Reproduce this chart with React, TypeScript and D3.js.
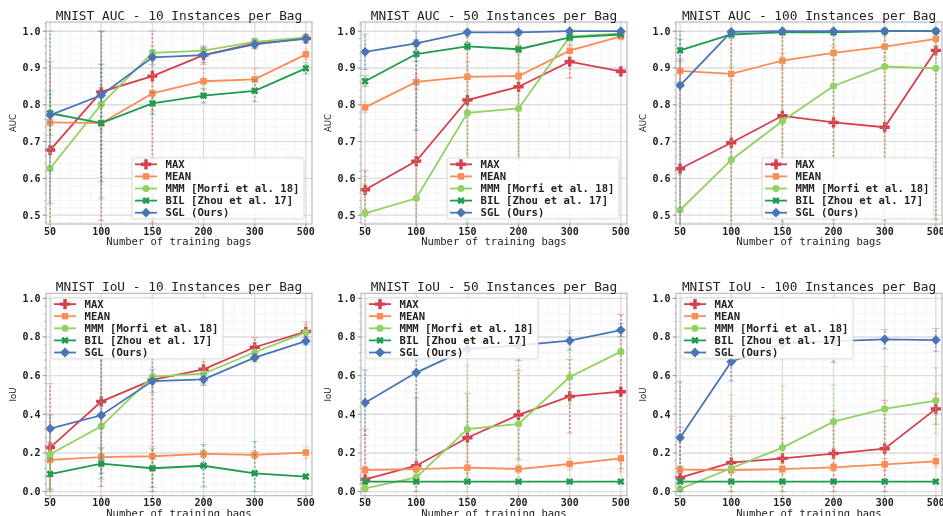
import * as d3 from 'd3'

// x categories (training bags) and method names
const BAGS = ['50', '100', '150', '200', '300', '500']
const METHODS = ['MAX', 'MEAN', 'MMM [Morfi et al. 18]', 'BIL [Zhou et al. 17]', 'SGL (Ours)']
const COLORS = ['#d6404e', '#fa8c58', '#93d162', '#1f9a4f', '#4a75b5']

const AUC_TICKS = [0.5, 0.6, 0.7, 0.8, 0.9, 1.0]
const IOU_TICKS = [0.0, 0.2, 0.4, 0.6, 0.8, 1.0]

// AUC, one row per method (MAX, MEAN, MMM, BIL, SGL)
const auc10 = [
  [0.677, 0.835, 0.878, 0.935, 0.967, 0.98],
  [0.752, 0.75, 0.831, 0.864, 0.869, 0.937],
  [0.627, 0.801, 0.941, 0.947, 0.971, 0.983],
  [0.777, 0.75, 0.804, 0.825, 0.838, 0.899],
  [0.772, 0.826, 0.929, 0.935, 0.964, 0.98],
]
const auc10Err = [
  [0.24, 0.35, 0.4, 0.025, 0.012, 0.01],
  [0.02, 0.02, 0.05, 0.035, 0.03, 0.015],
  [0.2, 0.11, 0.02, 0.01, 0.01, 0.005],
  [0.06, 0.16, 0.03, 0.02, 0.03, 0.015],
  [0.24, 0.28, 0.02, 0.02, 0.012, 0.01],
]
const auc50 = [
  [0.569, 0.647, 0.813, 0.849, 0.917, 0.891],
  [0.793, 0.862, 0.876, 0.878, 0.947, 0.986],
  [0.505, 0.546, 0.778, 0.79, 0.985, 0.994],
  [0.864, 0.938, 0.959, 0.951, 0.983, 0.991],
  [0.944, 0.967, 0.997, 0.997, 1.0, 1.0],
]
const auc50Err = [
  [0.053, 0.33, 0.3, 0.2, 0.045, 0.005],
  [0.015, 0.02, 0.04, 0.01, 0.02, 0.01],
  [0.1, 0.3, 0.3, 0.2, 0.01, 0.005],
  [0.015, 0.02, 0.01, 0.01, 0.01, 0.005],
  [0.048, 0.237, 0.01, 0.01, 0.002, 0.002],
]
const auc100 = [
  [0.626, 0.697, 0.77, 0.752, 0.739, 0.948],
  [0.892, 0.884, 0.92, 0.941, 0.958, 0.979],
  [0.514, 0.65, 0.756, 0.851, 0.904, 0.899],
  [0.948, 0.991, 0.997, 0.997, 1.0, 1.0],
  [0.853, 0.998, 1.0, 1.0, 1.0, 1.0],
]
const auc100Err = [
  [0.3, 0.3, 0.3, 0.3, 0.3, 0.46],
  [0.03, 0.02, 0.02, 0.02, 0.03, 0.02],
  [0.1, 0.3, 0.3, 0.4, 0.42, 0.41],
  [0.03, 0.01, 0.005, 0.005, 0.002, 0.002],
  [0.4, 0.01, 0.002, 0.002, 0.002, 0.002],
]

// IoU
const iou10 = [
  [0.228, 0.466, 0.578, 0.633, 0.747, 0.828],
  [0.164, 0.179, 0.183, 0.195, 0.19, 0.202],
  [0.193, 0.338, 0.595, 0.61, 0.721, 0.824],
  [0.091, 0.145, 0.121, 0.134, 0.095, 0.078],
  [0.326, 0.395, 0.572, 0.581, 0.693, 0.779],
]
const iou10Err = [
  [0.33, 0.44, 0.58, 0.07, 0.05, 0.05],
  [0.15, 0.05, 0.05, 0.02, 0.02, 0.03],
  [0.19, 0.17, 0.12, 0.06, 0.05, 0.04],
  [0.08, 0.08, 0.1, 0.11, 0.165, 0.01],
  [0.07, 0.3, 0.06, 0.03, 0.02, 0.02],
]
const iou50 = [
  [0.064, 0.134, 0.279, 0.397, 0.493, 0.517],
  [0.112, 0.116, 0.124, 0.117, 0.143, 0.172],
  [0.017, 0.074, 0.324, 0.35, 0.593, 0.724],
  [0.052, 0.052, 0.052, 0.052, 0.052, 0.052],
  [0.46, 0.616, 0.738, 0.757, 0.781, 0.836],
]
const iou50Err = [
  [0.26, 0.35, 0.23, 0.23, 0.19, 0.4],
  [0.02, 0.02, 0.03, 0.02, 0.03, 0.07],
  [0.05, 0.44, 0.33, 0.3, 0.15, 0.05],
  [0.003, 0.003, 0.003, 0.003, 0.003, 0.003],
  [0.17, 0.4, 0.03, 0.08, 0.05, 0.035],
]
const iou100 = [
  [0.072, 0.15, 0.172, 0.197, 0.222, 0.428],
  [0.114, 0.112, 0.116, 0.126, 0.141, 0.157],
  [0.014, 0.121, 0.228, 0.362, 0.428, 0.471],
  [0.052, 0.052, 0.052, 0.052, 0.052, 0.052],
  [0.279, 0.672, 0.767, 0.779, 0.788, 0.784],
]
const iou100Err = [
  [0.26, 0.24, 0.21, 0.22, 0.25, 0.08],
  [0.02, 0.02, 0.02, 0.02, 0.03, 0.03],
  [0.05, 0.38, 0.32, 0.19, 0.22, 0.17],
  [0.003, 0.003, 0.003, 0.003, 0.003, 0.003],
  [0.29, 0.1, 0.03, 0.11, 0.05, 0.06],
]

const W = 943
const H = 516
const MONO = '"DejaVu Sans Mono", monospace'
const SANS = '"DejaVu Sans", sans-serif'

const PANEL_LEFTS = [46, 361, 676]
const PANEL_W = 266

const markers = [
  { d: d3.symbol(d3.symbolCross, 58)(), rot: 0 },
  { d: d3.symbol(d3.symbolSquare, 42)(), rot: 0 },
  { d: d3.symbol(d3.symbolCircle, 40)(), rot: 0 },
  { d: d3.symbol(d3.symbolCross, 34)(), rot: 45 },
  { d: d3.symbol(d3.symbolSquare, 48)(), rot: 45 },
]

type PanelProps = {
  id: string
  left: number
  top: number
  height: number
  title: string
  ylabel: string
  domain: [number, number]
  ticks: number[]
  values: number[][]
  errs: number[][]
  legend: 'lr' | 'ul'
}

function Panel({ id, left, top, height, title, ylabel, domain, ticks, values, errs, legend }: PanelProps) {
  const x = d3.scaleLinear().domain([-0.08, 5.12]).range([left, left + PANEL_W])
  const y = d3.scaleLinear().domain(domain).range([top + height, top])
  const step = ticks[1] - ticks[0]
  const minor = d3.range(Math.ceil(domain[0] / (step / 5)), Math.floor(domain[1] / (step / 5)) + 1)
    .map(k => k * step / 5)
  const minorX = d3.range(0, 26).map(k => k * 0.2)
  const line = d3.line<number>().x((_, i) => x(i)).y(v => y(v))
  const bottom = top + height
  const fmt = d3.format('.1f')

  const lw = 172
  const lh = 61
  const lx = legend === 'lr' ? left + PANEL_W - 8 - lw : left + 5
  const ly = legend === 'lr' ? bottom - 5 - lh : top + 4.5

  return (
    <g>
      <defs>
        <clipPath id={id}>
          <rect x={left} y={top} width={PANEL_W} height={height} />
        </clipPath>
      </defs>
      <rect x={left} y={top} width={PANEL_W} height={height} fill="#fff" />
      {/* minor grid */}
      {minor.map((v, i) => (
        <line key={'my' + i} x1={left} x2={left + PANEL_W} y1={y(v)} y2={y(v)} stroke="#efefef" strokeWidth={0.6} />
      ))}
      {minorX.map((v, i) => (
        <line key={'mx' + i} x1={x(v)} x2={x(v)} y1={top} y2={bottom} stroke="#efefef" strokeWidth={0.6} />
      ))}
      {/* major grid */}
      {ticks.map(v => (
        <line key={'gy' + v} x1={left} x2={left + PANEL_W} y1={y(v)} y2={y(v)} stroke="#dedede" strokeWidth={1.4} />
      ))}
      {BAGS.map((b, i) => (
        <line key={'gx' + b} x1={x(i)} x2={x(i)} y1={top} y2={bottom} stroke="#dedede" strokeWidth={1.4} />
      ))}

      {/* series */}
      {values.map((vals, s) => (
        <g key={s}>
          <g clipPath={`url(#${id})`} opacity={0.55}>
            {vals.map((v, i) => {
              const lo = Math.max(0, v - errs[s][i])
              const hi = Math.min(1, v + errs[s][i])
              return (
                <g key={i}>
                  <line x1={x(i)} x2={x(i)} y1={y(lo)} y2={y(hi)} stroke={COLORS[s]} strokeWidth={1.8} strokeDasharray="2,2" />
                  <line x1={x(i) - 3.5} x2={x(i) + 3.5} y1={y(lo)} y2={y(lo)} stroke={COLORS[s]} strokeWidth={1} opacity={0.7} />
                  <line x1={x(i) - 3.5} x2={x(i) + 3.5} y1={y(hi)} y2={y(hi)} stroke={COLORS[s]} strokeWidth={1} opacity={0.7} />
                </g>
              )
            })}
          </g>
          <path d={line(vals) ?? ''} fill="none" stroke={COLORS[s]} strokeWidth={1.8} />
          {vals.map((v, i) => (
            <path key={i} d={markers[s].d ?? ''} transform={`translate(${x(i)},${y(v)}) rotate(${markers[s].rot})`} fill={COLORS[s]} />
          ))}
        </g>
      ))}

      {/* frame */}
      <rect x={left} y={top} width={PANEL_W} height={height} fill="none" stroke="#b5b5b5" strokeWidth={1.1} />
      {minor.map((v, i) => (
        <line key={'tm' + i} x1={left - 2} x2={left} y1={y(v)} y2={y(v)} stroke="#999" strokeWidth={0.6} />
      ))}
      {ticks.map(v => (
        <g key={'yt' + v}>
          <line x1={left - 3.5} x2={left} y1={y(v)} y2={y(v)} stroke="#888" strokeWidth={0.8} />
          <text x={left - 5.5} y={y(v)} dy="0.35em" textAnchor="end" fontFamily={MONO} fontWeight="bold" fontSize={10} fill="#222">
            {fmt(v)}
          </text>
        </g>
      ))}
      {BAGS.map((b, i) => (
        <g key={'xt' + b}>
          <line x1={x(i)} x2={x(i)} y1={bottom} y2={bottom + 3} stroke="#888" strokeWidth={0.8} />
          <text x={x(i)} y={bottom + 10.5} textAnchor="middle" fontFamily={MONO} fontWeight="bold" fontSize={10} fill="#222">
            {b}
          </text>
        </g>
      ))}

      <text x={left + PANEL_W / 2} y={top - 2.5} textAnchor="middle" fontFamily={MONO} fontSize={12.8} fill="#222">
        {title}
      </text>
      <text x={left + PANEL_W / 2} y={bottom + 21} textAnchor="middle" fontFamily={MONO} fontSize={10.5} fill="#222">
        Number of training bags
      </text>
      <text transform={`translate(${left - 30},${top + height / 2}) rotate(-90)`} textAnchor="middle" fontFamily={SANS} fontSize={8.5} fill="#222">
        {ylabel}
      </text>

      {/* legend */}
      <g transform={`translate(${lx},${ly})`}>
        <rect width={lw} height={lh} rx={2} fill="#fff" fillOpacity={0.85} stroke="#d0d0d0" strokeWidth={0.8} />
        {METHODS.map((m, s) => (
          <g key={m} transform={`translate(0,${6.3 + s * 12.1})`}>
            <line x1={3} x2={25} y1={0} y2={0} stroke={COLORS[s]} strokeWidth={1.8} />
            <path d={markers[s].d ?? ''} transform={`translate(14,0) rotate(${markers[s].rot})`} fill={COLORS[s]} />
            <text x={33.5} y={0} dy="0.35em" fontFamily={MONO} fontWeight="bold" fontSize={10.6} fill="#222">
              {m}
            </text>
          </g>
        ))}
      </g>
    </g>
  )
}

const TOP_ROW = { top: 22, height: 202, domain: [0.476, 1.025] as [number, number] }
const BOTTOM_ROW = { top: 293.3, height: 202.4, domain: [-0.021, 1.026] as [number, number] }

export default function App() {
  const aucSets = [
    { n: 10, v: auc10, e: auc10Err },
    { n: 50, v: auc50, e: auc50Err },
    { n: 100, v: auc100, e: auc100Err },
  ]
  const iouSets = [
    { n: 10, v: iou10, e: iou10Err },
    { n: 50, v: iou50, e: iou50Err },
    { n: 100, v: iou100, e: iou100Err },
  ]
  return (
    <svg width={W} height={H} style={{ position: 'absolute', left: 0, top: 0, background: '#fff' }}>
      {aucSets.map((p, k) => (
        <Panel
          key={'auc' + k}
          id={'clip-auc-' + k}
          left={PANEL_LEFTS[k]}
          top={TOP_ROW.top}
          height={TOP_ROW.height}
          title={`MNIST AUC - ${p.n} Instances per Bag`}
          ylabel="AUC"
          domain={TOP_ROW.domain}
          ticks={AUC_TICKS}
          values={p.v}
          errs={p.e}
          legend="lr"
        />
      ))}
      {iouSets.map((p, k) => (
        <Panel
          key={'iou' + k}
          id={'clip-iou-' + k}
          left={PANEL_LEFTS[k]}
          top={BOTTOM_ROW.top}
          height={BOTTOM_ROW.height}
          title={`MNIST IoU - ${p.n} Instances per Bag`}
          ylabel="IoU"
          domain={BOTTOM_ROW.domain}
          ticks={IOU_TICKS}
          values={p.v}
          errs={p.e}
          legend="ul"
        />
      ))}
    </svg>
  )
}
